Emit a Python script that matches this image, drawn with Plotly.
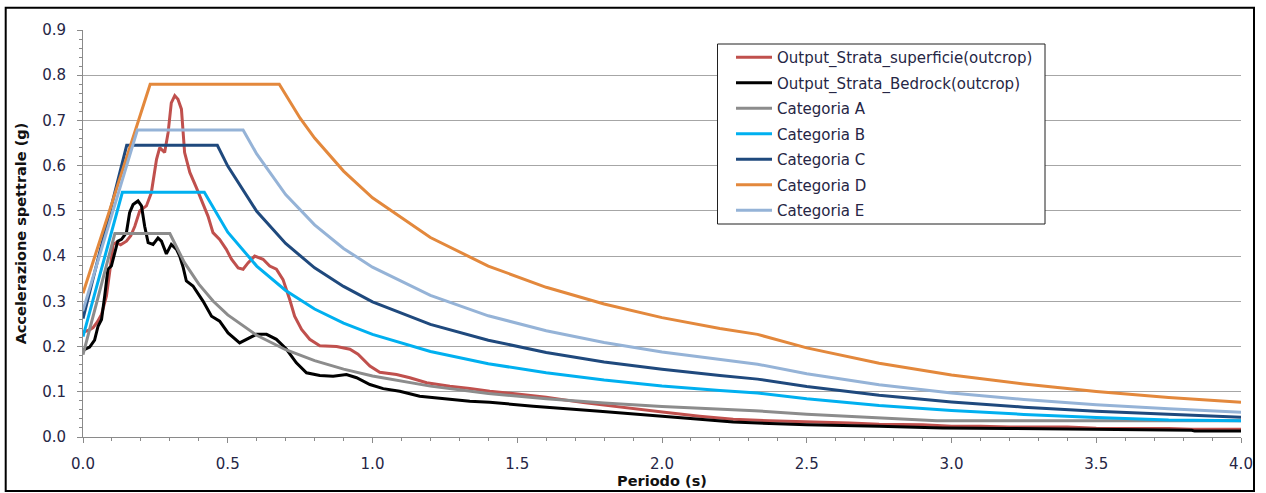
import plotly.graph_objects as go

# ---------------- data ----------------
names = ["Output_Strata_superficie(outcrop)", "Output_Strata_Bedrock(outcrop)",
         "Categoria A", "Categoria B", "Categoria C", "Categoria D", "Categoria E"]
colors = ["#C0504D", "#000000", "#8C8C8C", "#00B0F0", "#1F497D", "#E3883C", "#95B3D7"]

sup_T = [0.0, 0.02, 0.035, 0.05, 0.064, 0.081, 0.098, 0.104, 0.115, 0.13, 0.15, 0.165, 0.179,
         0.196, 0.219, 0.236, 0.254, 0.265, 0.282, 0.294, 0.305, 0.317, 0.328, 0.34, 0.351,
         0.369, 0.392, 0.409, 0.432, 0.449, 0.472, 0.495, 0.513, 0.536, 0.553, 0.570, 0.593,
         0.622, 0.645, 0.668, 0.691, 0.714, 0.731, 0.755, 0.783, 0.818, 0.876, 0.922, 0.95,
         0.991, 1.025, 1.083, 1.129, 1.187, 1.267, 1.336, 1.405, 1.5, 1.6, 1.728, 1.85, 2.016,
         2.13, 2.246, 2.37, 2.5, 2.649, 2.75, 2.9, 3.0, 3.1, 3.2, 3.4, 3.5, 3.75, 3.83, 4.0]
sup_A = [0.232, 0.236, 0.242, 0.255, 0.271, 0.312, 0.393, 0.426, 0.43, 0.425, 0.433, 0.445, 0.466,
         0.50, 0.511, 0.54, 0.614, 0.64, 0.629, 0.673, 0.739, 0.755, 0.747, 0.725, 0.629,
         0.585, 0.551, 0.525, 0.488, 0.452, 0.437, 0.415, 0.393, 0.374, 0.371, 0.385, 0.40,
         0.393, 0.378, 0.371, 0.348, 0.304, 0.267, 0.238, 0.216, 0.202, 0.20, 0.194, 0.183,
         0.157, 0.143, 0.138, 0.131, 0.12, 0.112, 0.107, 0.101, 0.095, 0.088, 0.076, 0.066, 0.054,
         0.046, 0.039, 0.036, 0.034, 0.031, 0.028, 0.027, 0.024, 0.024, 0.022, 0.022, 0.0195, 0.019, 0.017, 0.017]

bed_T = [0.0, 0.006, 0.023, 0.04, 0.052, 0.064, 0.075, 0.086, 0.098, 0.11, 0.12, 0.133, 0.15,
         0.161, 0.173, 0.19, 0.202, 0.213, 0.225, 0.242, 0.259, 0.271, 0.288, 0.305, 0.323,
         0.334, 0.346, 0.357, 0.38, 0.415, 0.444, 0.472, 0.501, 0.541, 0.565, 0.599, 0.634,
         0.668, 0.703, 0.737, 0.772, 0.818, 0.864, 0.91, 0.945, 0.991, 1.037, 1.094, 1.163,
         1.25, 1.336, 1.405, 1.555, 1.785, 2.016, 2.13, 2.246, 2.37, 2.5, 2.75, 2.97, 3.2, 3.5,
         3.83, 3.84, 4.0]
bed_A = [0.19, 0.194, 0.199, 0.214, 0.245, 0.26, 0.312, 0.371, 0.378, 0.41, 0.433, 0.437, 0.452,
         0.496, 0.514, 0.522, 0.511, 0.466, 0.43, 0.426, 0.44, 0.433, 0.405, 0.426, 0.415,
         0.40, 0.375, 0.345, 0.334, 0.30, 0.267, 0.256, 0.23, 0.208, 0.216, 0.227, 0.227,
         0.216, 0.194, 0.164, 0.142, 0.136, 0.1345, 0.138, 0.131, 0.116, 0.107, 0.101, 0.09,
         0.085, 0.079, 0.077, 0.068, 0.057, 0.046, 0.039, 0.033, 0.030, 0.027, 0.024, 0.020, 0.019, 0.0166,
         0.015, 0.013, 0.013]

catA_T = [0, 0.11, 0.30, 0.35, 0.4, 0.45, 0.5, 0.6, 0.7, 0.8, 0.9, 1.0, 1.2, 1.4, 1.6, 1.8,
          2.0, 2.2, 2.32, 2.5, 2.75, 2.95, 3.25, 3.5, 3.75, 4.0]
catA_A = [0.182, 0.45, 0.45, 0.386, 0.338, 0.30, 0.27, 0.225, 0.193, 0.169, 0.15, 0.135, 0.1125,
          0.0964, 0.0844, 0.075, 0.0675, 0.0614, 0.0582, 0.0501, 0.0414, 0.036, 0.036, 0.036, 0.036, 0.036]

catB_T = [0, 0.136, 0.419, 0.5, 0.6, 0.7, 0.8, 0.9, 1.0, 1.2, 1.4, 1.6, 1.8, 2.0, 2.2, 2.33,
          2.5, 2.75, 3.0, 3.25, 3.5, 3.75, 4.0]
catB_A = [0.222, 0.541, 0.541, 0.453, 0.378, 0.324, 0.283, 0.252, 0.227, 0.189, 0.162, 0.142,
          0.126, 0.113, 0.103, 0.0973, 0.0845, 0.0698, 0.0587, 0.05, 0.0431, 0.0376, 0.036]

catC_T = [0, 0.151, 0.464, 0.5, 0.6, 0.7, 0.8, 0.9, 1.0, 1.2, 1.4, 1.6, 1.8, 2.0, 2.2, 2.33,
          2.5, 2.75, 3.0, 3.25, 3.5, 3.75, 4.0]
catC_A = [0.262, 0.645, 0.645, 0.599, 0.499, 0.428, 0.374, 0.333, 0.299, 0.249, 0.214, 0.187,
          0.166, 0.150, 0.136, 0.128, 0.1116, 0.0922, 0.0775, 0.066, 0.0569, 0.0496, 0.0436]

catD_T = [0, 0.232, 0.678, 0.75, 0.8, 0.9, 1.0, 1.2, 1.4, 1.6, 1.8, 2.0, 2.2, 2.33, 2.5,
          2.75, 3.0, 3.25, 3.5, 3.75, 4.0]
catD_A = [0.318, 0.78, 0.78, 0.705, 0.661, 0.588, 0.529, 0.441, 0.378, 0.331, 0.294, 0.264,
          0.240, 0.227, 0.197, 0.163, 0.137, 0.117, 0.1006, 0.0876, 0.077]

catE_T = [0, 0.188, 0.553, 0.6, 0.7, 0.8, 0.9, 1.0, 1.2, 1.4, 1.6, 1.8, 2.0, 2.2, 2.33, 2.5,
          2.75, 3.0, 3.25, 3.5, 3.75, 4.0]
catE_A = [0.28, 0.679, 0.679, 0.626, 0.536, 0.469, 0.417, 0.3755, 0.313, 0.268, 0.235, 0.209,
          0.188, 0.171, 0.161, 0.14, 0.1157, 0.0972, 0.0828, 0.0714, 0.0622, 0.0547]

x_ticks = [0.0, 0.5, 1.0, 1.5, 2.0, 2.5, 3.0, 3.5, 4.0]
y_ticks = [0.0, 0.1, 0.2, 0.3, 0.4, 0.5, 0.6, 0.7, 0.8, 0.9]

series_T = [sup_T, bed_T, catA_T, catB_T, catC_T, catD_T, catE_T]
series_A = [sup_A, bed_A, catA_A, catB_A, catC_A, catD_A, catE_A]

# ---------------- figure ----------------
W, H = 1266, 493
ML, MR, MT, MB = 83, 25, 30, 56
PW, PH = W - ML - MR, H - MT - MB


def px_x(px):
    return (px - ML) / PW


def px_y(py):
    return (MT + PH - py) / PH


fig = go.Figure()
for nm, T, A, c in zip(names, series_T, series_A, colors):
    fig.add_trace(go.Scatter(x=T, y=A, mode="lines", name=nm, legendgroup=nm,
                             line=dict(color=c, width=3)))

tick_col = "#262645"
axis_col = "#8A8A8A"

fig.update_layout(
    width=W, height=H,
    margin=dict(l=ML, r=MR, t=MT, b=MB, pad=0, autoexpand=False),
    paper_bgcolor="white", plot_bgcolor="white",
    font=dict(family="DejaVu Sans", size=15, color=tick_col),
    showlegend=True,
    legend=dict(x=px_x(731), y=px_y(41), xanchor="left", yanchor="top",
                borderwidth=0, bgcolor="rgba(0,0,0,0)",
                font=dict(family="DejaVu Sans", size=15, color=tick_col),
                tracegroupgap=3, itemwidth=36),
    xaxis=dict(range=[0, 4], tickvals=x_ticks, tickformat=".1f", showgrid=False, zeroline=False,
               automargin=False,
               showline=True, linecolor=axis_col, linewidth=1,
               ticks="outside", ticklen=5, tickcolor=axis_col, ticklabelstandoff=8,
               minor=dict(dtick=0.1, ticks="outside", ticklen=3, tickcolor=axis_col, showgrid=False),
               title=dict(text="Periodo (s)", standoff=0,
                          font=dict(family="DejaVu Sans", size=14.5, color="#111111", weight="bold"))),
    yaxis=dict(range=[0, 0.9], tickvals=y_ticks, tickformat=".1f", showgrid=True,
               gridcolor="#A6A6A6", gridwidth=1, zeroline=False, automargin=False,
               showline=True, linecolor=axis_col, linewidth=1,
               ticks="outside", ticklen=5, tickcolor=axis_col, ticklabelstandoff=8,
               minor=dict(dtick=0.02, ticks="outside", ticklen=3, tickcolor=axis_col, showgrid=False),
               title=dict(text="Accelerazione spettrale (g)", standoff=12,
                          font=dict(family="DejaVu Sans", size=14.5, color="#111111", weight="bold"))),
)

# legend box (drawn behind the legend entries)
fig.add_shape(type="rect", xref="paper", yref="paper",
              x0=px_x(717.5), x1=px_x(1045), y0=px_y(224), y1=px_y(44),
              line=dict(color="#202020", width=1), fillcolor="white", layer="above")

# outer chart frame
fig.add_shape(type="rect", xref="paper", yref="paper",
              x0=px_x(5.7), x1=px_x(1254), y0=px_y(491), y1=px_y(7.7),
              line=dict(color="black", width=2), fillcolor="rgba(0,0,0,0)", layer="above")

fig.write_html("out.html")
